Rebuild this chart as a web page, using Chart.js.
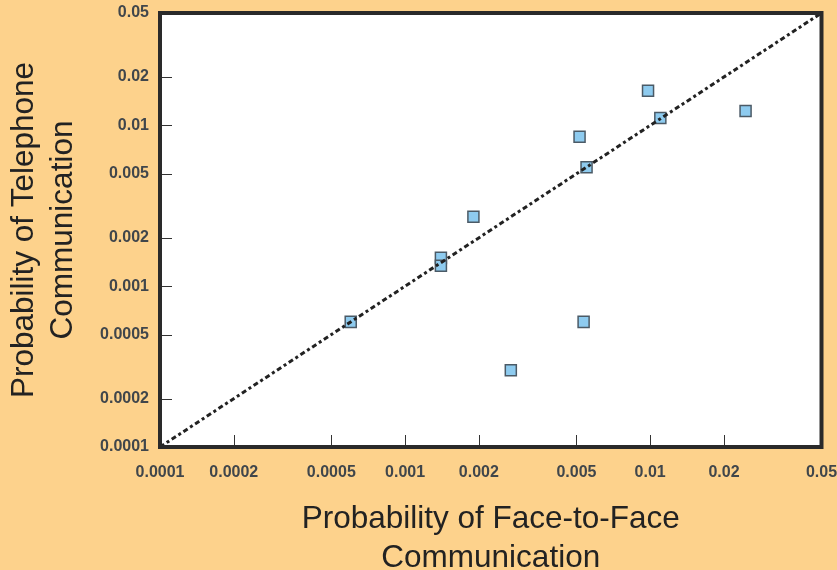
<!DOCTYPE html>
<html>
<head>
<meta charset="utf-8">
<title>Face-to-face vs telephone communication</title>
<script src="https://cdn.jsdelivr.net/npm/chart.js@4.4.1/dist/chart.umd.min.js"></script>
<style>
  html, body { margin: 0; padding: 0; background: #fdd28c; }
  #wrap { width: 837px; height: 570px; }
</style>
</head>
<body>
<div id="wrap"><canvas id="chart" width="837" height="570"></canvas></div>
<script>
// values
const faceToFace = [0.0006, 0.0014, 0.0014, 0.0019, 0.0027, 0.00515, 0.0055, 0.00535, 0.0098, 0.011, 0.0245];
const telephone  = [0.0006, 0.0015, 0.00134, 0.0027, 0.0003, 0.0085, 0.0055, 0.0006, 0.0164, 0.0111, 0.0123];

const tickValues = [0.0001, 0.0002, 0.0005, 0.001, 0.002, 0.005, 0.01, 0.02, 0.05];
const tickLabels = ['0.0001', '0.0002', '0.0005', '0.001', '0.002', '0.005', '0.01', '0.02', '0.05'];

// equality line y = x across the whole range
const diagonal = [tickValues[0], tickValues[tickValues.length - 1]];

const points = faceToFace.map((v, i) => ({ x: v, y: telephone[i] }));

const labelFont = { family: '"Liberation Sans", Arial, sans-serif', size: 16, weight: 'bold' };
const titleFont = { family: '"Liberation Sans", Arial, sans-serif', size: 31.5, lineHeight: 1.24 };

function setTicks(scale) {
    scale.ticks = tickValues.map(v => ({ value: v }));
}
function tickLabel(value) {
    const i = tickValues.indexOf(value);
    return i >= 0 ? tickLabels[i] : '';
}

// white plot area
const plotBackground = {
    id: 'plotBackground',
    beforeDraw(chart) {
        const { ctx, chartArea: a } = chart;
        ctx.save();
        ctx.fillStyle = '#ffffff';
        ctx.fillRect(a.left, a.top, a.right - a.left, a.bottom - a.top);
        ctx.restore();
    }
};

// short inward tick marks and the heavy frame
const frameAndTicks = {
    id: 'frameAndTicks',
    afterDraw(chart) {
        const { ctx, chartArea: a, scales: { x, y } } = chart;
        ctx.save();
        ctx.strokeStyle = '#333333';
        ctx.lineWidth = 1;
        tickValues.slice(1, -1).forEach(v => {
            const px = Math.round(x.getPixelForValue(v)) + 0.5;
            ctx.beginPath();
            ctx.moveTo(px, a.bottom);
            ctx.lineTo(px, a.bottom - 12);
            ctx.stroke();
            const py = Math.round(y.getPixelForValue(v)) + 0.5;
            ctx.beginPath();
            ctx.moveTo(a.left, py);
            ctx.lineTo(a.left + 12, py);
            ctx.stroke();
        });
        ctx.lineWidth = 4;
        ctx.strokeStyle = '#2a2a2a';
        ctx.strokeRect(a.left, a.top, a.right - a.left, a.bottom - a.top);
        ctx.restore();
    }
};

new Chart(document.getElementById('chart'), {
    data: {
        datasets: [
            {
                type: 'line',
                data: diagonal.map(v => ({ x: v, y: v })),
                borderColor: '#222222',
                borderWidth: 3,
                borderDash: [5, 3, 3, 3],
                pointRadius: 0,
                fill: false,
                order: 0
            },
            {
                type: 'scatter',
                data: points,
                pointStyle: 'rect',
                pointRadius: 7.8,
                pointHoverRadius: 7.8,
                backgroundColor: '#8ecbef',
                borderColor: '#4b5a66',
                borderWidth: 1.5,
                order: 1
            }
        ]
    },
    options: {
        responsive: false,
        animation: false,
        layout: { padding: { top: 13, right: 15.5, left: 0, bottom: 0 } },
        plugins: {
            legend: { display: false },
            tooltip: { enabled: false }
        },
        scales: {
            x: {
                type: 'logarithmic',
                min: 0.0001,
                max: 0.05,
                afterBuildTicks: setTicks,
                afterFit(s) { s.height = 123; s.paddingLeft = 0; s.paddingRight = 0; },
                grid: { display: false, drawTicks: false },
                border: { display: false },
                ticks: {
                    autoSkip: false,
                    maxRotation: 0,
                    padding: 16,
                    color: '#40464b',
                    font: labelFont,
                    callback: tickLabel
                },
                title: {
                    display: true,
                    text: ['Probability of Face-to-Face', 'Communication'],
                    color: '#222222',
                    font: titleFont,
                    padding: { top: 0, bottom: -7.5 }
                }
            },
            y: {
                type: 'logarithmic',
                min: 0.0001,
                max: 0.05,
                afterBuildTicks: setTicks,
                afterFit(s) { s.width = 160; s.paddingTop = 0; s.paddingBottom = 0; },
                grid: { display: false, drawTicks: false },
                border: { display: false },
                ticks: {
                    autoSkip: false,
                    padding: 11,
                    color: '#40464b',
                    font: labelFont,
                    callback: tickLabel
                },
                title: {
                    display: true,
                    text: ['Probability of Telephone', 'Communication'],
                    color: '#222222',
                    font: titleFont,
                    padding: { top: 4.5, bottom: 0 }
                }
            }
        }
    },
    plugins: [plotBackground, frameAndTicks]
});
</script>
</body>
</html>
